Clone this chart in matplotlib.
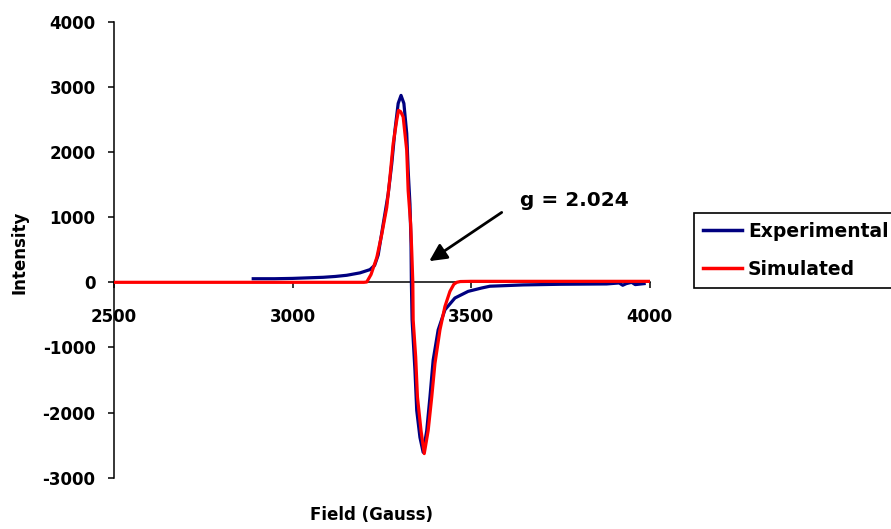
import matplotlib
matplotlib.use("Agg")
import matplotlib.pyplot as plt

# Experimental EPR derivative spectrum (field in Gauss, intensity a.u.)
exp_field = [2890, 2950, 3000, 3050, 3086, 3120, 3152, 3189, 3217, 3230,
             3240, 3254, 3268, 3278, 3287, 3296, 3304, 3312, 3320, 3324,
             3329, 3332, 3333, 3335, 3343, 3348, 3357, 3366, 3376, 3385,
             3394, 3408, 3427, 3455, 3492, 3530, 3553, 3646, 3750, 3880,
             3915, 3925, 3935, 3950, 3960, 3985]
exp_int = [55, 55, 60, 70, 77, 90, 108, 145, 195, 260,
           420, 892, 1356, 1820, 2335, 2747, 2870, 2747, 2283, 1716,
           1200, 600, 0, -577, -1350, -1968, -2381, -2610, -2277, -1762,
           -1195, -731, -422, -241, -139, -87, -60, -40, -30, -25,
           -10, -45, -20, 0, -35, -20]

# Simulated spectrum
sim_field = [2500, 3200, 3208, 3220, 3236, 3250, 3264, 3273, 3282, 3292,
             3297, 3303, 3310, 3320, 3324, 3331, 3334, 3337, 3338, 3345,
             3350, 3360, 3369, 3380, 3390, 3399, 3413, 3427, 3441, 3452,
             3460, 3470, 3500, 4000]
sim_int = [0, 0, 5, 120, 377, 737, 1150, 1614, 2129, 2490,
           2640, 2620, 2540, 2025, 1407, 892, 480, 0, -577, -1144,
           -1762, -2277, -2630, -2277, -1762, -1247, -731, -371, -139, -30,
           0, 12, 15, 15]

x_ticks = [2500, 3000, 3500, 4000]
y_ticks = [-3000, -2000, -1000, 0, 1000, 2000, 3000, 4000]
g_label = "g = 2.024"

plt.rcParams['font.family'] = ['DejaVu Sans']
plt.rcParams['font.weight'] = 'bold'

W, H = 891, 529
fig = plt.figure(figsize=(W / 100, H / 100), dpi=100)
left, right, top, bottom = 114, 649.5, 21.8, 477.7
ax = fig.add_axes([left / W, 1 - bottom / H, (right - left) / W, (bottom - top) / H])

ax.plot(exp_field, exp_int, color='#000080', lw=2.3, label='Experimental', zorder=3)
ax.plot(sim_field, sim_int, color='#FF0000', lw=2.3, label='Simulated', zorder=4)

ax.set_xlim(2500, 4000)
ax.set_ylim(-3000, 4000)
ax.set_xticks(x_ticks)
ax.set_yticks(y_ticks)
ax.set_xticklabels([str(v) for v in x_ticks])
ax.set_yticklabels([str(v) for v in y_ticks])

for s in ('top', 'right'):
    ax.spines[s].set_visible(False)
ax.spines['bottom'].set_position(('data', 0))
for s in ('left', 'bottom'):
    ax.spines[s].set_linewidth(1.1)
    ax.spines[s].set_color('black')

ax.tick_params(axis='x', direction='out', length=4.3, width=1.1, pad=14.5,
               labelsize=12)
ax.tick_params(axis='y', direction='out', length=4.3, width=1.1, pad=9,
               labelsize=12)
for lab in ax.get_xticklabels() + ax.get_yticklabels():
    lab.set_fontweight('bold')

ax.set_xlabel('Field (Gauss)', fontsize=12, fontweight='bold', va='center')
ax.xaxis.set_label_coords((372 - left) / (right - left), (bottom - 515) / (bottom - top))
ax.set_ylabel('Intensity', fontsize=12, fontweight='bold', va='center')
ax.yaxis.set_label_coords((20 - left) / (right - left), (bottom - 252) / (bottom - top))

ax.text(3637, 1252, g_label, fontsize=14.5, fontweight='bold', ha='left', va='center')
ax.annotate('', xy=(3383, 325), xytext=(3586, 1073),
            arrowprops=dict(arrowstyle='-|>', color='black', lw=2,
                            mutation_scale=26, shrinkA=0, shrinkB=0))

leg = ax.legend(loc='upper left', bbox_to_anchor=(694 / W, 1 - 213 / H),
                bbox_transform=fig.transFigure, borderaxespad=0,
                fontsize=13.5, handlelength=2.1, handletextpad=0.3,
                labelspacing=1.0, borderpad=0.48, fancybox=False,
                framealpha=1, edgecolor='black')
leg.get_frame().set_linewidth(1.2)
for t in leg.get_texts():
    t.set_fontweight('bold')
for l in leg.get_lines():
    l.set_linewidth(2.5)

fig.savefig('out.png', dpi=100)
